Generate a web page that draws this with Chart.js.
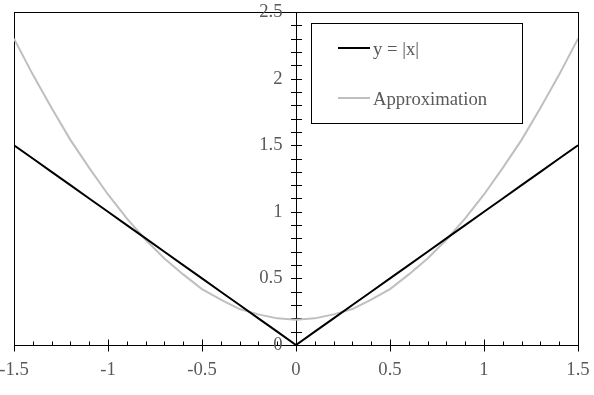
<!DOCTYPE html>
<html>
<head>
<meta charset="utf-8">
<script src="https://cdn.jsdelivr.net/npm/chart.js@4.4.1/dist/chart.umd.min.js"></script>
<style>
  html, body { margin: 0; padding: 0; background: #fff; }
  #wrap { width: 594px; height: 395px; }
</style>
</head>
<body>
<div id="wrap"><canvas id="absChart" width="594" height="395"></canvas></div>
<script>
// values
var xVals = [-1.5, -1.4, -1.3, -1.2, -1.1, -1.0, -0.9, -0.8, -0.7, -0.6, -0.5, -0.4, -0.3, -0.2, -0.1, 0,
             0.1, 0.2, 0.3, 0.4, 0.5, 0.6, 0.7, 0.8, 0.9, 1.0, 1.1, 1.2, 1.3, 1.4, 1.5];
var absVals = [1.5, 1.4, 1.3, 1.2, 1.1, 1.0, 0.9, 0.8, 0.7, 0.6, 0.5, 0.4, 0.3, 0.2, 0.1, 0,
               0.1, 0.2, 0.3, 0.4, 0.5, 0.6, 0.7, 0.8, 0.9, 1.0, 1.1, 1.2, 1.3, 1.4, 1.5];
var approxVals = [2.30, 2.03, 1.78, 1.54, 1.33, 1.13, 0.95, 0.79, 0.65, 0.53, 0.42, 0.34, 0.27, 0.23, 0.20, 0.19,
                  0.20, 0.23, 0.27, 0.34, 0.42, 0.53, 0.65, 0.79, 0.95, 1.13, 1.33, 1.54, 1.78, 2.03, 2.30];
var seriesNames = ['y = |x|', 'Approximation'];
var seriesColors = ['#000000', '#bfbfbf'];

var textColor = '#595959';
var fontFamily = "'Liberation Serif', 'Times New Roman', serif";
var fontSize = 18.7;

function toPoints(ys) {
    var pts = [];
    xVals.forEach(function (x, i) { pts.push({ x: x, y: ys[i] }); });
    return pts;
}

// frame, ticks, y labels, legend box
var decorPlugin = {
    id: 'decor',
    beforeDatasetsDraw: function (chart) {
        var ctx = chart.ctx;
        var a = chart.chartArea;
        var xs = chart.scales.x, ys = chart.scales.y;
        var x0 = Math.round(xs.getPixelForValue(0)) + 0.5;
        var yb = Math.round(a.bottom) + 0.5;
        ctx.save();
        ctx.strokeStyle = '#000';
        ctx.lineWidth = 1;
        ctx.strokeRect(Math.round(a.left) + 0.5, Math.round(a.top) + 0.5,
                       Math.round(a.right - a.left), Math.round(a.bottom - a.top));
        ctx.beginPath();
        ctx.moveTo(x0, a.top);
        ctx.lineTo(x0, a.bottom);
        // y ticks every 0.1, crossing the axis
        for (var i = 0; i <= 25; i++) {
            var py = Math.round(ys.getPixelForValue(i / 10)) + 0.5;
            ctx.moveTo(x0 - 5.5, py);
            ctx.lineTo(x0 + 5.5, py);
        }
        // x ticks: major cross, minor inside
        for (var j = -15; j <= 15; j++) {
            var px = Math.round(xs.getPixelForValue(j / 10)) + 0.5;
            if (j % 5 == 0) {
                ctx.moveTo(px, yb - 6);
                ctx.lineTo(px, yb + 6);
            } else {
                ctx.moveTo(px, yb - 4);
                ctx.lineTo(px, yb);
            }
        }
        ctx.stroke();

        // y tick labels left of the centred axis
        ctx.font = fontSize + 'px ' + fontFamily;
        ctx.fillStyle = textColor;
        ctx.textAlign = 'right';
        ctx.textBaseline = 'middle';
        ys.ticks.forEach(function (t) {
            ctx.fillText(String(t.value), x0 - 14, ys.getPixelForValue(t.value));
        });
        ctx.restore();
    },
    afterDraw: function (chart) {
        var ctx = chart.ctx;
        ctx.save();
        ctx.fillStyle = '#fff';
        ctx.fillRect(311, 23, 211, 100);
        ctx.strokeStyle = '#000';
        ctx.lineWidth = 1;
        ctx.strokeRect(311.5, 23.5, 211, 100);
        ctx.font = fontSize + 'px ' + fontFamily;
        ctx.textBaseline = 'middle';
        ctx.textAlign = 'left';
        chart.data.datasets.forEach(function (ds, k) {
            var ly = 48 + k * 50;
            ctx.strokeStyle = ds.borderColor;
            ctx.lineWidth = 2;
            ctx.beginPath();
            ctx.moveTo(338, ly);
            ctx.lineTo(370, ly);
            ctx.stroke();
            ctx.fillStyle = textColor;
            ctx.fillText(ds.label, 373, ly + 2);
        });
        ctx.restore();
    }
};

Chart.defaults.font.family = fontFamily;
Chart.defaults.font.size = fontSize;
Chart.defaults.color = textColor;

var ctx = document.getElementById('absChart').getContext('2d');
var myChart = new Chart(ctx, {
    type: 'line',
    data: {
        datasets: [
            {
                label: seriesNames[0],
                data: toPoints(absVals),
                borderColor: seriesColors[0],
                borderWidth: 2,
                pointRadius: 0,
                tension: 0,
                fill: false
            },
            {
                label: seriesNames[1],
                data: toPoints(approxVals),
                borderColor: seriesColors[1],
                borderWidth: 2,
                pointRadius: 0,
                tension: 0,
                fill: false
            }
        ]
    },
    options: {
        responsive: false,
        animation: false,
        layout: { padding: { left: 14, top: 12, right: 16, bottom: 0 } },
        plugins: {
            legend: { display: false },
            tooltip: { enabled: false }
        },
        scales: {
            x: {
                type: 'linear',
                position: 'bottom',
                min: -1.5,
                max: 1.5,
                ticks: {
                    stepSize: 0.5, padding: 14, maxRotation: 0, color: textColor,
                    callback: function (v) { return String(v); }
                },
                grid: { drawOnChartArea: false, drawTicks: false },
                border: { display: false },
                afterFit: function (s) { s.height = 50; s.paddingLeft = 0; s.paddingRight = 0; }
            },
            y: {
                type: 'linear',
                position: { x: 0 },
                min: 0,
                max: 2.5,
                ticks: { stepSize: 0.5, display: false },
                grid: { drawOnChartArea: false, drawTicks: false },
                border: { display: false },
                afterFit: function (s) { s.width = 0; s.paddingTop = 0; s.paddingBottom = 0; }
            }
        }
    },
    plugins: [decorPlugin]
});
</script>
</body>
</html>
